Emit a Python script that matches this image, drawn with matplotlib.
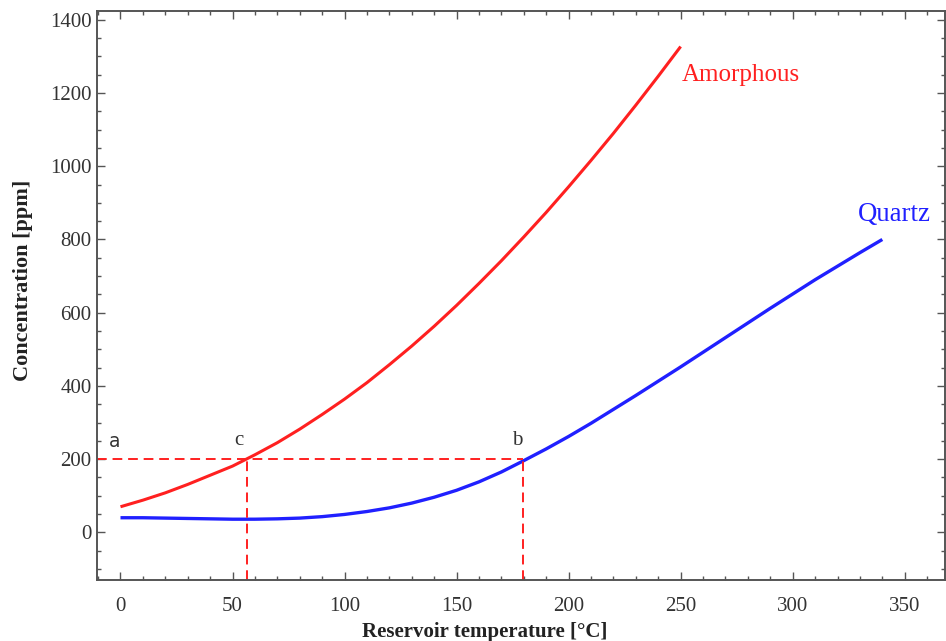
import matplotlib.pyplot as plt
from matplotlib.ticker import MultipleLocator

# Silica solubility vs reservoir temperature
amorph_t = [0, 10, 20, 30, 40, 50, 60, 70, 80, 90, 100, 110, 120, 130, 140,
            150, 160, 170, 180, 190, 200, 210, 220, 230, 240, 250]
amorph_c = [70, 88, 108, 131, 156, 181, 212, 245, 282, 322, 364, 409, 458,
            509, 563, 620, 680, 742, 807, 874, 944, 1016, 1090, 1167, 1246, 1327]

quartz_t = [0, 10, 20, 30, 40, 50, 60, 70, 80, 90, 100, 110, 120, 130, 140,
            150, 160, 170, 180, 190, 200, 210, 220, 230, 240, 250, 260, 270,
            280, 290, 300, 310, 320, 330, 340]
quartz_c = [40, 40, 39, 38, 37, 36, 36, 37, 39, 43, 49, 57, 67, 80, 96,
            115, 138, 165, 196, 228, 262, 298, 336, 374, 413, 452, 492, 532,
            572, 612, 651, 690, 727, 764, 800]

# reading at 200 ppm
c_level = 200
t_amorph = 56.5
t_quartz = 179.5

serif = ['Liberation Serif', 'DejaVu Serif']
spine_col = '#555555'

fig = plt.figure(figsize=(9.46, 6.41), dpi=100)
ax = fig.add_axes([0.1025, 0.0952, 0.8965, 0.8876])

ax.plot(amorph_t, amorph_c, color='#ff2020', lw=2.2, solid_capstyle='butt')
ax.plot(quartz_t, quartz_c, color='#2020ff', lw=2.4, solid_capstyle='butt')

xmin, ymin = -10.5, -130
ax.plot([xmin, t_quartz], [c_level, c_level], color='#ff2020', lw=1.4,
        ls=(0, (5, 3)))
ax.plot([t_amorph, t_amorph], [ymin, c_level], color='#ff2020', lw=1.4,
        ls=(0, (5, 3)))
ax.plot([t_quartz, t_quartz], [ymin, c_level], color='#ff2020', lw=1.4,
        ls=(0, (5, 3)))

ax.text(-2.5, 248, 'a', fontsize=13.5, color='#333333',
        family='DejaVu Sans', ha='center', va='center')
ax.text(53, 251, 'c', fontsize=15, color='#333333',
        family=serif, ha='center', va='center')
ax.text(177, 251, 'b', fontsize=15, color='#333333',
        family=serif, ha='center', va='center')

ax.text(250.5, 1248, 'Amorphous', fontsize=18, color='#ff2020',
        family=serif, ha='left', va='center')
ax.text(329, 867, 'Quartz', fontsize=19.3, color='#2020ff',
        family=serif, ha='left', va='center')

ax.set_xlim(xmin, 368)
ax.set_ylim(ymin, 1424)

ax.xaxis.set_major_locator(MultipleLocator(50))
ax.xaxis.set_minor_locator(MultipleLocator(10))
ax.yaxis.set_major_locator(MultipleLocator(200))
ax.yaxis.set_minor_locator(MultipleLocator(50))

ax.tick_params(which='both', direction='in', top=True, right=True,
               color=spine_col, width=1.0, labelsize=15,
               labelcolor='#333333')
ax.tick_params(which='major', length=6)
ax.tick_params(axis='x', which='major', pad=12)
ax.tick_params(axis='y', which='major', pad=4)
ax.tick_params(which='minor', length=3)
for lab in ax.get_xticklabels() + ax.get_yticklabels():
    lab.set_family(serif)

for s in ax.spines.values():
    s.set_color(spine_col)
    s.set_linewidth(1.4)

ax.set_xlabel('Reservoir temperature [°C]', fontsize=15, fontweight='bold',
              family=serif, color='#222222')
ax.set_ylabel('Concentration [ppm]', fontsize=16, fontweight='bold',
              family=serif, color='#222222')
ax.xaxis.set_label_coords(0.4575, -0.073)
ax.yaxis.set_label_coords(-0.0755, 0.527)

fig.savefig('out.png', dpi=100, facecolor='white')
